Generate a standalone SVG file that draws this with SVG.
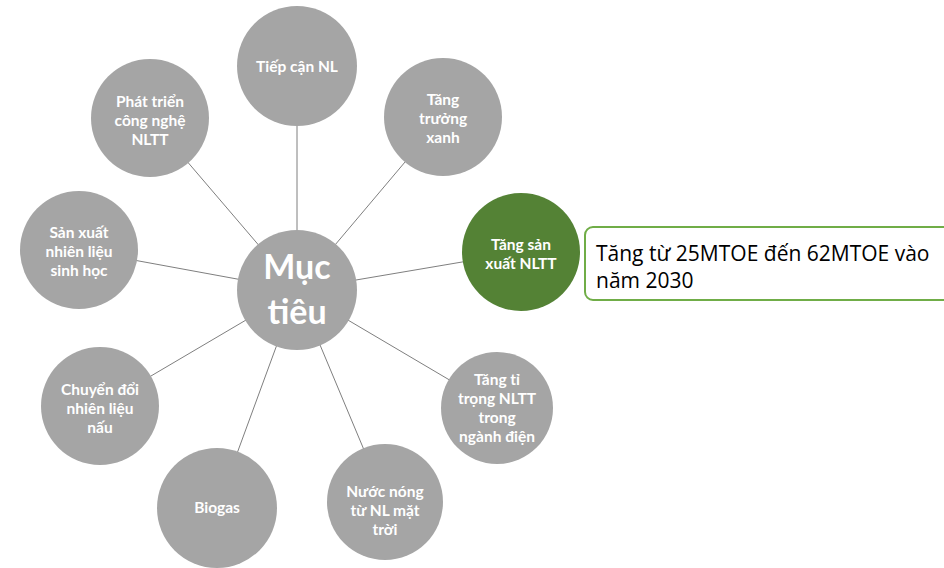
<svg xmlns="http://www.w3.org/2000/svg" width="944" height="568" viewBox="0 0 944 568">
<style>
.n{fill:#a5a5a5}
.g{fill:#548235}
.t{font-family:Lato,"Open Sans","Liberation Sans",sans-serif;font-weight:bold;font-size:15.5px;fill:#fff;text-anchor:middle}
.c{font-family:Lato,"Open Sans","Liberation Sans",sans-serif;font-weight:bold;font-size:34px;fill:#fff;text-anchor:middle}
.e{stroke:#7f7f7f;stroke-width:1;fill:none}
.b{font-family:"Open Sans","Liberation Sans",sans-serif;font-size:21px;fill:#000}
</style>
<rect width="944" height="568" fill="#fff"/>
<g id="connectors">
<line class="e" x1="297" y1="290" x2="297" y2="66"/>
<line class="e" x1="297" y1="290" x2="443" y2="117"/>
<line class="e" x1="297" y1="290" x2="150" y2="118"/>
<line class="e" x1="297" y1="290" x2="79" y2="250"/>
<line class="e" x1="297" y1="290" x2="521" y2="252"/>
<line class="e" x1="297" y1="290" x2="497" y2="408"/>
<line class="e" x1="297" y1="290" x2="385" y2="500"/>
<line class="e" x1="297" y1="290" x2="217" y2="508"/>
<line class="e" x1="297" y1="290" x2="100" y2="406"/>
</g>
<g id="center">
<circle class="n" cx="297" cy="290" r="60"/>
<text class="c" x="297" y="279">Mục</text>
<text class="c" x="297" y="324">tiêu</text>
</g>
<g id="n1"><circle class="n" cx="297" cy="66" r="60"/><text class="t" x="297" y="72">Tiếp cận NL</text></g>
<g id="n2"><circle class="n" cx="443" cy="117" r="59"/><text class="t" x="443" y="105">Tăng</text><text class="t" x="443" y="124">trưởng</text><text class="t" x="443" y="143">xanh</text></g>
<g id="n3"><circle class="n" cx="150" cy="118" r="59"/><text class="t" x="150" y="107">Phát triển</text><text class="t" x="150" y="126">công nghệ</text><text class="t" x="150" y="145">NLTT</text></g>
<g id="n4"><circle class="n" cx="79" cy="250" r="59"/><text class="t" x="79" y="238">Sản xuất</text><text class="t" x="79" y="257">nhiên liệu</text><text class="t" x="79" y="276">sinh học</text></g>
<g id="n5"><circle class="g" cx="521" cy="252" r="59"/><text class="t" x="521" y="250">Tăng sản</text><text class="t" x="521" y="269">xuất NLTT</text></g>
<g id="n6"><circle class="n" cx="497" cy="408" r="56"/><text class="t" x="497" y="385">Tăng tỉ</text><text class="t" x="497" y="404">trọng NLTT</text><text class="t" x="497" y="423">trong</text><text class="t" x="497" y="442">ngành điện</text></g>
<g id="n7"><circle class="n" cx="385" cy="502" r="58"/><text class="t" x="385" y="497">Nước nóng</text><text class="t" x="385" y="516">từ NL mặt</text><text class="t" x="385" y="535">trời</text></g>
<g id="n8"><circle class="n" cx="217" cy="508" r="60"/><text class="t" x="217" y="513">Biogas</text></g>
<g id="n9"><circle class="n" cx="100" cy="406" r="59"/><text class="t" x="100" y="395">Chuyển đổi</text><text class="t" x="100" y="414">nhiên liệu</text><text class="t" x="100" y="433">nấu</text></g>
<g id="callout">
<rect x="585" y="227" width="368" height="73" rx="8" fill="#fff" stroke="#70ad47" stroke-width="2"/>
<text class="b" x="596" y="261">Tăng từ 25MTOE đến 62MTOE vào</text>
<text class="b" x="596" y="288">năm 2030</text>
</g>
</svg>
